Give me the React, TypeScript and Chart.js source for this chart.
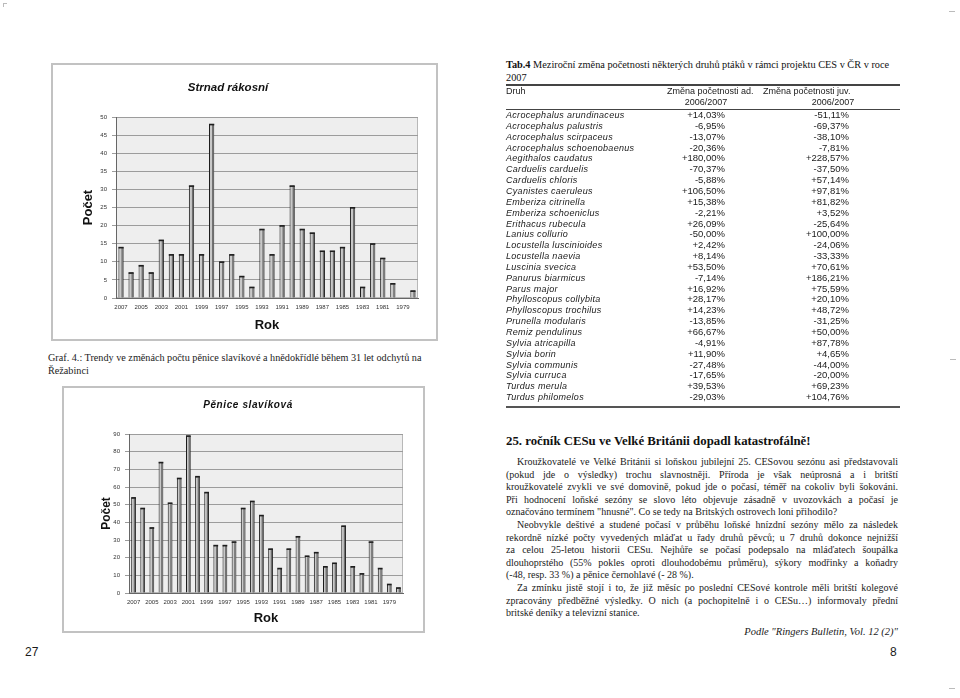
import React, { useEffect, useRef } from "react";
import { Chart, registerables } from "chart.js";

Chart.register(...registerables);

// ---------- DATA ----------
const years = [
  "2007", "2006", "2005", "2004", "2003", "2002", "2001", "2000", "1999", "1998",
  "1997", "1996", "1995", "1994", "1993", "1992", "1991", "1990", "1989", "1988",
  "1987", "1986", "1985", "1984", "1983", "1982", "1981", "1980", "1979", "1978",
];
const strnadCounts = [14, 7, 9, 7, 16, 12, 12, 31, 12, 48, 10, 12, 6, 3, 19, 12, 20, 31, 19, 18, 13, 13, 14, 25, 3, 15, 11, 4, 0, 2];
const peniceCounts = [54, 48, 37, 74, 51, 65, 89, 66, 57, 27, 27, 29, 48, 52, 44, 25, 14, 25, 32, 21, 23, 15, 17, 38, 15, 11, 29, 14, 5, 3];
const strnadAxis = [0, 50, 5]; // min, max, step
const peniceAxis = [0, 90, 10];

const species = [
  "Acrocephalus arundinaceus", "Acrocephalus palustris", "Acrocephalus scirpaceus",
  "Acrocephalus schoenobaenus", "Aegithalos caudatus", "Carduelis carduelis",
  "Carduelis chloris", "Cyanistes caeruleus", "Emberiza citrinella",
  "Emberiza schoeniclus", "Erithacus rubecula", "Lanius collurio",
  "Locustella luscinioides", "Locustella naevia", "Luscinia svecica",
  "Panurus biarmicus", "Parus major", "Phylloscopus collybita",
  "Phylloscopus trochilus", "Prunella modularis", "Remiz pendulinus",
  "Sylvia atricapilla", "Sylvia borin", "Sylvia communis", "Sylvia curruca",
  "Turdus merula", "Turdus philomelos",
];
const adChange = [
  "+14,03%", "-6,95%", "-13,07%", "-20,36%", "+180,00%", "-70,37%", "-5,88%",
  "+106,50%", "+15,38%", "-2,21%", "+26,09%", "-50,00%", "+2,42%", "+8,14%",
  "+53,50%", "-7,14%", "+16,92%", "+28,17%", "+14,23%", "-13,85%", "+66,67%",
  "-4,91%", "+11,90%", "-27,48%", "-17,65%", "+39,53%", "-29,03%",
];
const juvChange = [
  "-51,11%", "-69,37%", "-38,10%", "-7,81%", "+228,57%", "-37,50%", "+57,14%",
  "+97,81%", "+81,82%", "+3,52%", "-25,64%", "+100,00%", "-24,06%", "-33,33%",
  "+70,61%", "+186,21%", "+75,59%", "+20,10%", "+48,72%", "-31,25%", "+50,00%",
  "+87,78%", "+4,65%", "-44,00%", "-20,00%", "+69,23%", "+104,76%",
];

const articleLines: [string, boolean, boolean][] = [
  // text, indent, lastLineOfParagraph
  ["Kroužkovatelé ve Velké Británii si loňskou jubilejní 25. CESovou sezónu asi představovali", true, false],
  ["(pokud jde o výsledky) trochu slavnostněji. Příroda je však neúprosná a i britští", false, false],
  ["kroužkovatelé zvykli ve své domovině, pokud jde o počasí, téměř na cokoliv byli šokováni.", false, false],
  ["Při hodnocení  loňské sezóny se slovo léto objevuje zásadně v uvozovkách a počasí je", false, false],
  ["označováno termínem \"hnusné\". Co se tedy na Britských ostrovech loni přihodilo?", false, true],
  ["Neobvykle deštivé a studené počasí v průběhu loňské hnízdní sezóny mělo za následek", true, false],
  ["rekordně nízké počty vyvedených mláďat u řady druhů pěvců; u 7 druhů  dokonce nejnižší", false, false],
  ["za celou 25-letou historii CESu. Nejhůře se počasí podepsalo na mláďatech šoupálka", false, false],
  ["dlouhoprstého (55% pokles oproti dlouhodobému průměru), sýkory modřinky a koňadry", false, false],
  ["(-48, resp. 33 %) a pěnice černohlavé (- 28 %).", false, true],
  ["Za zmínku jistě stojí i to, že již měsíc po poslední CESové kontrole měli britští kolegové", true, false],
  ["zpracovány předběžné výsledky. O nich (a pochopitelně i o CESu…) informovaly přední", false, false],
  ["britské deníky a televizní stanice.", false, true],
];

// ---------- PLUGINS ----------
const plotBg = {
  id: "plotBg",
  beforeDraw(chart: any) {
    const { ctx, chartArea } = chart;
    const { left, top, right, bottom } = chartArea;
    ctx.save();
    ctx.fillStyle = "#eeeeee";
    ctx.fillRect(left, top, right - left, bottom - top);
    ctx.strokeStyle = "#b8b8b8";
    ctx.lineWidth = 1;
    ctx.strokeRect(left + 0.5, top + 0.5, right - left - 1, bottom - top - 1);
    ctx.restore();
  },
};

const bar3d = {
  id: "bar3d",
  afterDatasetsDraw(chart: any) {
    const ctx = chart.ctx;
    chart.getDatasetMeta(0).data.forEach((el: any) => {
      const { x, y, base, width } = el.getProps(["x", "y", "base", "width"], true);
      const h = base - y;
      if (h < 1) return;
      const left = x - width / 2;
      const right = x + width / 2;
      ctx.save();
      ctx.fillStyle = "#6e6e6e";
      ctx.fillRect(right - 2.2, y, 1.4, h);
      ctx.fillStyle = "#1e1e1e";
      ctx.fillRect(left, y - 0.5, width, 1.6);
      ctx.restore();
    });
  },
};

const SANS = "'Liberation Sans', Arial, sans-serif";
const SERIF = "'Liberation Serif', 'Times New Roman', serif";

type BarProps = {
  labels: string[];
  values: number[];
  axis: number[];
  w: number;
  h: number;
  pad: { left: number; top: number; right: number; bottom: number };
  yW: number;
  xH: number;
  yTitleSize: number;
  xTitleSize: number;
  style: React.CSSProperties;
};

function BarChart(p: BarProps) {
  const ref = useRef<HTMLCanvasElement>(null);
  useEffect(() => {
    if (!ref.current) return;
    const chart = new Chart(ref.current, {
      type: "bar",
      data: {
        labels: p.labels,
        datasets: [
          {
            data: p.values,
            backgroundColor: "#c8c8c8",
            borderColor: "#1a1a1a",
            borderWidth: 1,
            barPercentage: 0.52,
            categoryPercentage: 1,
          },
        ],
      },
      options: {
        animation: false,
        responsive: false,
        devicePixelRatio: 1,
        layout: { padding: p.pad },
        plugins: {
          legend: { display: false },
          tooltip: { enabled: false },
          title: { display: false },
        },
        scales: {
          x: {
            grid: { display: false, tickLength: 3 },
            border: { display: true, color: "#666666" },
            ticks: {
              autoSkip: false,
              maxRotation: 0,
              minRotation: 0,
              padding: 3,
              color: "#333333",
              font: { size: 6, family: SANS },
              callback: (_v: any, i: number) => (i % 2 === 0 ? p.labels[i] : ""),
            },
            title: {
              display: true,
              text: "Rok",
              color: "#111111",
              font: { size: p.xTitleSize, weight: "bold", family: SANS },
              padding: { top: 4, bottom: 4 },
            },
            afterFit: (s: any) => {
              s.height = p.xH;
            },
          },
          y: {
            min: p.axis[0],
            max: p.axis[1],
            ticks: {
              stepSize: p.axis[2],
              padding: 5,
              color: "#333333",
              font: { size: 6, family: SANS },
            },
            grid: { color: "#9c9c9c", tickLength: 4, lineWidth: 1 },
            border: { color: "#666666" },
            title: {
              display: true,
              text: "Počet",
              color: "#111111",
              font: { size: p.yTitleSize, weight: "bold", family: SANS },
              padding: { top: 4, bottom: 4 },
            },
            afterFit: (s: any) => {
              s.width = p.yW;
            },
          },
        },
      } as any,
      plugins: [plotBg, bar3d],
    });
    return () => chart.destroy();
  }, []);
  return <canvas ref={ref} width={p.w} height={p.h} style={{ position: "absolute", width: p.w, height: p.h, ...p.style }} />;
}

const abs = (left: number, top: number, extra: React.CSSProperties = {}): React.CSSProperties => ({
  position: "absolute",
  left,
  top,
  ...extra,
});

export default function App() {
  const rowTop = (i: number) => 115 + i * 10.85 - 6;
  const lineTop = (i: number) => 462 + i * 12.6 - 7;
  return (
    <div style={{ position: "absolute", left: 0, top: 0, width: 960, height: 698, background: "#ffffff", overflow: "hidden", color: "#1a1a1a" }}>
      {/* crop marks */}
      <div style={abs(3, 3, { width: 3, height: 3, borderTop: "1px solid #bbb", borderLeft: "1px solid #bbb" })} />
      <div style={abs(949, 11, { width: 6, height: 1, background: "#bbb" })} />
      <div style={abs(950, 359, { width: 6, height: 1, background: "#bbb" })} />
      <div style={abs(949, 688, { width: 6, height: 1, background: "#bbb" })} />

      {/* Top chart */}
      <div style={abs(51, 63, { width: 387, height: 278, border: "2px solid #c2c2c2", boxSizing: "border-box" })} />
      <BarChart
        labels={years}
        values={strnadCounts}
        axis={strnadAxis}
        w={386}
        h={277}
        pad={{ left: 25, top: 53, right: 20, bottom: 4 }}
        yW={39}
        xH={39}
        yTitleSize={13}
        xTitleSize={13}
        style={{ left: 52, top: 64 }}
      />
      <div style={abs(148, 81, { width: 160, textAlign: "center", font: `italic bold 11.5px ${SANS}`, color: "#111" })}>Strnad rákosní</div>

      {/* Caption */}
      <div style={abs(48, 351, { font: `10.2px/13px ${SERIF}`, whiteSpace: "nowrap", color: "#222" })}>
        Graf. 4.: Trendy ve změnách počtu pěnice slavíkové a hnědokřídlé během 31 let odchytů na
        <br />
        Řežabinci
      </div>

      {/* Bottom chart */}
      <div style={abs(62, 386, { width: 363, height: 247, border: "2px solid #c2c2c2", boxSizing: "border-box" })} />
      <BarChart
        labels={years}
        values={peniceCounts}
        axis={peniceAxis}
        w={361}
        h={245}
        pad={{ left: 32, top: 47, right: 21, bottom: 2 }}
        yW={34}
        xH={37}
        yTitleSize={12}
        xTitleSize={13}
        style={{ left: 63, top: 387 }}
      />
      <div style={abs(168, 399, { width: 160, textAlign: "center", font: `italic bold 10px ${SANS}`, letterSpacing: 0.6, color: "#111" })}>Pěnice slavíková</div>

      {/* Table */}
      <div style={abs(506, 58, { font: `10.3px/13px ${SERIF}`, whiteSpace: "nowrap", color: "#111" })}>
        <b>Tab.4</b> Meziroční změna početnosti některých druhů ptáků v rámci projektu CES v ČR v roce
        <br />
        2007
      </div>
      <div style={abs(506, 84, { width: 394, height: 2, background: "#444" })} />
      <div style={abs(506, 109, { width: 394, height: 1, background: "#444" })} />
      <div style={abs(506, 406, { width: 394, height: 2, background: "#555" })} />
      <div style={{ ...abs(506, 86), font: `9px/11px ${SANS}` }}>Druh</div>
      <div style={{ ...abs(667, 86), font: `9px/11px ${SANS}`, whiteSpace: "nowrap" }}>Změna početnosti ad.</div>
      <div style={{ ...abs(656, 97), width: 100, textAlign: "center", font: `9px/11px ${SANS}` }}>2006/2007</div>
      <div style={{ ...abs(763, 86), font: `9px/11px ${SANS}`, whiteSpace: "nowrap" }}>Změna početnosti juv.</div>
      <div style={{ ...abs(783, 97), width: 100, textAlign: "center", font: `9px/11px ${SANS}` }}>2006/2007</div>
      {species.map((s, i) => (
        <React.Fragment key={s}>
          <div style={{ ...abs(506, rowTop(i)), font: `italic 9px/12px ${SANS}`, letterSpacing: 0.3, whiteSpace: "nowrap" }}>{s}</div>
          <div style={{ ...abs(645, rowTop(i)), width: 80, textAlign: "right", font: `9.5px/12px ${SANS}` }}>{adChange[i]}</div>
          <div style={{ ...abs(769, rowTop(i)), width: 80, textAlign: "right", font: `9.5px/12px ${SANS}` }}>{juvChange[i]}</div>
        </React.Fragment>
      ))}

      {/* Article */}
      <div style={abs(506, 433, { font: `bold 12.8px/16px ${SERIF}`, whiteSpace: "nowrap", color: "#111" })}>
        25. ročník CESu ve Velké Británii dopadl katastrofálně!
      </div>
      {articleLines.map(([t, indent, last], i) => (
        <div
          key={i}
          style={{
            ...abs(indent ? 517 : 506, lineTop(i)),
            width: indent ? 381 : 392,
            font: `10px/14px ${SERIF}`,
            textAlign: "justify",
            textAlignLast: last ? "left" : "justify",
            color: "#1a1a1a",
          }}
        >
          {t}
        </div>
      ))}
      <div style={abs(600, 625, { width: 298, textAlign: "right", font: `italic 10.5px/14px ${SERIF}` })}>
        Podle "Ringers Bulletin, Vol. 12 (2)"
      </div>
      <div style={abs(25, 644, { font: `12px/16px ${SANS}` })}>27</div>
      <div style={abs(890, 644, { font: `12px/16px ${SANS}` })}>8</div>
    </div>
  );
}
